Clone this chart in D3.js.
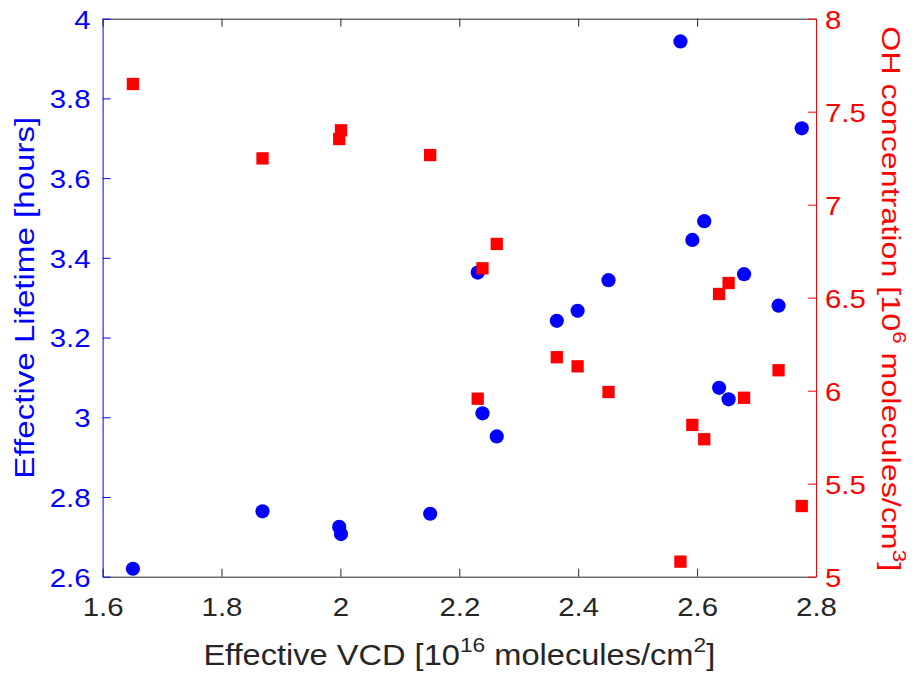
<!DOCTYPE html>
<html>
<head>
<meta charset="utf-8">
<script src="https://cdn.jsdelivr.net/npm/d3@7"></script>
<style>
  body { margin: 0; background: #fff; }
  svg text { font-family: "Liberation Sans", Arial, sans-serif; }
</style>
</head>
<body>
<div class="chart"></div>
<script>
// effective VCD [1e16 molecules/cm2]
const vcd = [1.651, 1.869, 1.998, 2.001, 2.151, 2.231, 2.239, 2.263, 2.364, 2.399,
  2.451, 2.572, 2.592, 2.612, 2.637, 2.653, 2.679, 2.737, 2.776];
// effective lifetime [hours]
const lifetime = [2.620, 2.764, 2.725, 2.707, 2.758, 3.363, 3.010, 2.952, 3.242, 3.267,
  3.344, 3.943, 3.445, 3.492, 3.074, 3.045, 3.359, 3.280, 3.725];
// OH concentration [1e6 molecules/cm3]
const ohConc = [7.649, 7.249, 7.353, 7.400, 7.267, 5.957, 6.658, 6.789, 6.180, 6.131,
  5.993, 5.081, 5.816, 5.739, 6.520, 6.579, 5.962, 6.110, 5.380];

const xTicks = [1.6, 1.8, 2, 2.2, 2.4, 2.6, 2.8];
const leftTicks = [2.6, 2.8, 3, 3.2, 3.4, 3.6, 3.8, 4];
const rightTicks = [5, 5.5, 6, 6.5, 7, 7.5, 8];

const width = 920, height = 674;
const margin = { top: 18.7, right: 104, bottom: 97.3, left: 102.6 };
const innerW = width - margin.left - margin.right;
const innerH = height - margin.top - margin.bottom;

const blue = '#0000ff', red = '#ff0000', axisGray = '#262626';
const tickFont = 26;

const x = d3.scaleLinear().domain([1.6, 2.8]).range([0, innerW]);
const yLeft = d3.scaleLinear().domain([2.6, 4]).range([innerH, 0]);
const yRight = d3.scaleLinear().domain([5, 8]).range([innerH, 0]);

const svg = d3
  .select('.chart')
  .append('svg')
  .attr('width', width)
  .attr('height', height);

const g = svg.append('g').attr('transform', `translate(${margin.left},${margin.top})`);

const fmt = (d) => String(+d.toFixed(2));

// the original's lettering runs a little wider than Liberation Sans
function widen(sel, factor) {
  sel.each(function () {
    const len = this.getComputedTextLength();
    d3.select(this).attr('textLength', len * factor).attr('lengthAdjust', 'spacingAndGlyphs');
  });
}

// Axes (ticks point inward, like the original)
function styleAxis(sel, color) {
  sel.select('.domain').attr('stroke', color).attr('stroke-width', 1);
  sel.selectAll('.tick line').attr('stroke', color);
  sel.selectAll('.tick text').attr('fill', color).attr('font-size', tickFont);
  widen(sel.selectAll('.tick text'), 1.13);
}

const xBottom = g
  .append('g')
  .attr('transform', `translate(0,${innerH})`)
  .call(d3.axisBottom(x).tickValues(xTicks).tickFormat(fmt).tickSizeInner(-8).tickSizeOuter(0).tickPadding(20.8));
styleAxis(xBottom, axisGray);

const xTop = g
  .append('g')
  .call(d3.axisTop(x).tickValues(xTicks).tickFormat('').tickSizeInner(-8).tickSizeOuter(0));
styleAxis(xTop, axisGray);

const yL = g
  .append('g')
  .call(d3.axisLeft(yLeft).tickValues(leftTicks).tickFormat(fmt).tickSizeInner(-8).tickSizeOuter(0).tickPadding(12));
styleAxis(yL, blue);
yL.selectAll('.tick text').attr('dy', '0.36em');

const yR = g
  .append('g')
  .attr('transform', `translate(${innerW},0)`)
  .call(d3.axisRight(yRight).tickValues(rightTicks).tickFormat(fmt).tickSizeInner(-8).tickSizeOuter(0).tickPadding(9));
styleAxis(yR, red);
yR.selectAll('.tick text').attr('dy', '0.36em');

// Blue circles: lifetime
g.selectAll('.life')
  .data(vcd)
  .enter()
  .append('circle')
  .attr('class', 'life')
  .attr('cx', (d) => x(d))
  .attr('cy', (d, i) => yLeft(lifetime[i]))
  .attr('r', 7.1)
  .attr('fill', blue);

// Red squares: OH concentration
const sq = 12.3;
g.selectAll('.oh')
  .data(vcd)
  .enter()
  .append('rect')
  .attr('class', 'oh')
  .attr('x', (d) => x(d) - sq / 2)
  .attr('y', (d, i) => yRight(ohConc[i]) - sq / 2)
  .attr('width', sq)
  .attr('height', sq)
  .attr('fill', red);

// Axis labels, with superscripts
function label(text, parts, size) {
  const sup = Math.round(size * 0.7);
  const rise = Math.round(size * 0.42);
  parts.forEach(([s, isSup]) => {
    text
      .append('tspan')
      .attr('dy', isSup ? -rise : rise * (text.selectAll('tspan').size() > 0 && !isSup ? 1 : 0))
      .attr('font-size', isSup ? sup : size)
      .text(s);
  });
  // tidy dy: only shift back down after a superscript
  let prevSup = false;
  text.selectAll('tspan').each(function (d, i) {
    const isSup = parts[i][1];
    d3.select(this).attr('dy', isSup ? -rise : prevSup ? rise : 0);
    prevSup = isSup;
  });
  return text;
}

// stretch a label so it spans `target` pixels along its own direction
function fitLength(text, target) {
  const len = text.node().getComputedTextLength();
  return target / len;
}

const xLabel = svg
  .append('text')
  .attr('text-anchor', 'middle')
  .attr('font-size', 30)
  .attr('fill', axisGray);
label(xLabel, [['Effective VCD [10', false], ['16', true], [' molecules/cm', false], ['2', true], [']', false]], 30);
const xs = fitLength(xLabel, 512);
xLabel.attr('transform', `translate(${margin.left + innerW / 2},665) scale(${xs},1)`);

const lLabel = svg
  .append('text')
  .attr('text-anchor', 'middle')
  .attr('font-size', 27)
  .attr('fill', blue)
  .text('Effective Lifetime [hours]');
const ls = fitLength(lLabel, 362);
lLabel.attr('transform', `translate(34,${margin.top + innerH / 2}) rotate(-90) scale(${ls},1)`);

const rLabel = svg
  .append('text')
  .attr('text-anchor', 'middle')
  .attr('font-size', 26)
  .attr('fill', red);
label(rLabel, [['OH concentration [10', false], ['6', true], [' molecules/cm', false], ['3', true], [']', false]], 26);
const rs = fitLength(rLabel, 545);
rLabel.attr('transform', `translate(882,${margin.top + innerH / 2 + 1}) rotate(90) scale(${rs},1)`);
</script>
</body>
</html>
